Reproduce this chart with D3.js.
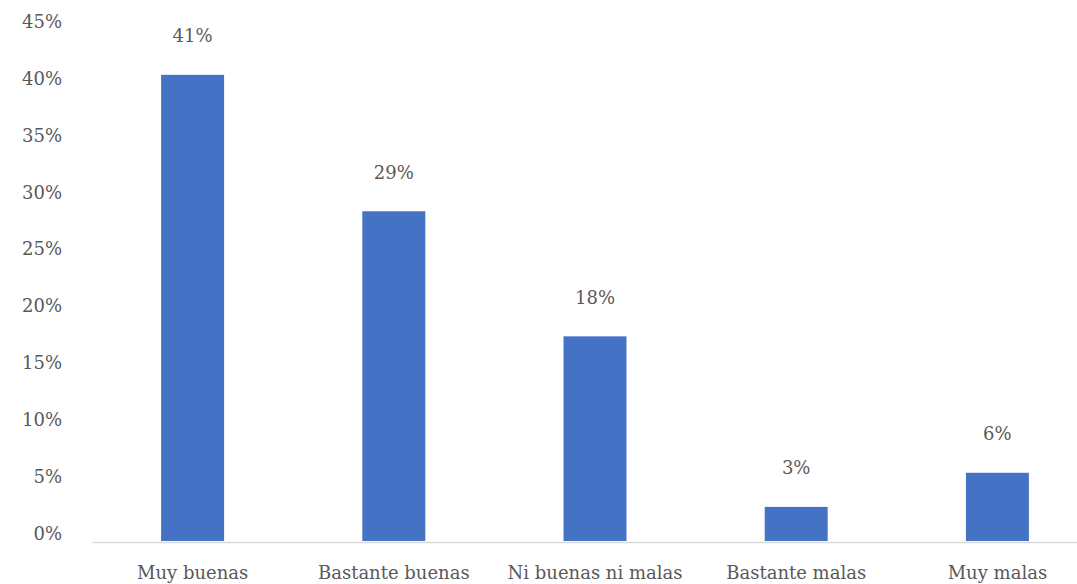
<!DOCTYPE html>
<html>
<head>
<meta charset="utf-8">
<script src="https://cdn.jsdelivr.net/npm/d3@7"></script>
<style>
  html, body { margin: 0; padding: 0; background: #fff; }
  svg { display: block; }
</style>
</head>
<body>
<svg id="chart" width="1077" height="584"></svg>
<script>
const categories = ["Muy buenas", "Bastante buenas", "Ni buenas ni malas", "Bastante malas", "Muy malas"];
const values = [41, 29, 18, 3, 6];
const valueLabels = ["41%", "29%", "18%", "3%", "6%"];
const yTicks = [0, 5, 10, 15, 20, 25, 30, 35, 40, 45];

const svg = d3.select("#chart");
const font = "'DejaVu Serif', serif";
const textColor = "#595959";

const x = d3.scaleBand().domain(categories).range([92, 1098]).paddingInner(0.687).paddingOuter(0.3435);
const y = d3.scaleLinear().domain([0, 45]).range([541, 29.35]);

// y tick labels
const yAxis = d3.axisLeft(y).tickValues(yTicks).tickSize(0).tickPadding(0).tickFormat(d => d + "%");
const gy = svg.append("g").attr("transform", "translate(62,0)").call(yAxis);
gy.select(".domain").remove();
gy.selectAll("text")
  .attr("font-family", font).attr("font-size", 18).attr("fill", textColor)
  .attr("dy", null).attr("y", -8.4).attr("dominant-baseline", "central");

// bars
svg.append("g").selectAll("rect").data(values).join("rect")
  .attr("x", (d, i) => x(categories[i]))
  .attr("width", x.bandwidth())
  .attr("y", d => y(d))
  .attr("height", d => y(0) - y(d))
  .attr("fill", "#4472C4");

// baseline axis
const xAxis = d3.axisBottom(x).tickSize(0).tickPadding(0);
const gx = svg.append("g").attr("transform", `translate(0,${y(0) + 1})`).call(xAxis);
gx.select(".domain").attr("stroke", "#D9D9D9").attr("stroke-width", 1.3);
gx.selectAll("text")
  .attr("font-family", font).attr("font-size", 18).attr("fill", textColor)
  .attr("dy", null).attr("y", 30).attr("dominant-baseline", "central");

// data labels
svg.append("g").selectAll("text").data(values).join("text")
  .attr("x", (d, i) => x(categories[i]) + x.bandwidth() / 2)
  .attr("y", d => y(d) - 39)
  .attr("text-anchor", "middle")
  .attr("dominant-baseline", "central")
  .attr("font-family", font).attr("font-size", 18).attr("fill", textColor)
  .text((d, i) => valueLabels[i]);
</script>
</body>
</html>
